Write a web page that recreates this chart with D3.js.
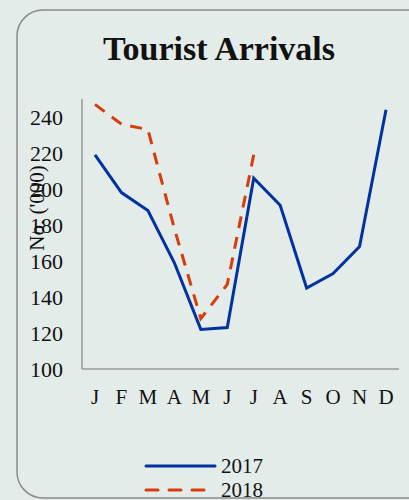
<!DOCTYPE html>
<html>
<head>
<meta charset="utf-8">
<script src="https://cdn.jsdelivr.net/npm/d3@7"></script>
<style>
  body { margin: 0; background: #e4ecea; }
  svg { display: block; }
  text { font-family: "Liberation Serif", "DejaVu Serif", serif; fill: #111; }
</style>
</head>
<body>
<div id="chart"></div>
<script>
// months and arrivals ('000)
var months = ["J1", "F", "M1", "A1", "M2", "J2", "J3", "A2", "S", "O", "N", "D"];
var monthLabels = ["J", "F", "M", "A", "M", "J", "J", "A", "S", "O", "N", "D"];
var arrivals2017 = [219, 198, 188, 159, 122, 123, 206, 191, 145, 153, 168, 244];
var arrivals2018 = [247, 236, 233, 178, 128, 147, 219];
var yTicks = [100, 120, 140, 160, 180, 200, 220, 240];

var width = 409, height = 500;

var svg = d3.select("#chart").append("svg")
    .attr("width", width)
    .attr("height", height);

// rounded frame
svg.append("rect")
    .attr("x", 17).attr("y", 10)
    .attr("width", 430).attr("height", 488)
    .attr("rx", 26)
    .attr("fill", "#e4ecea")
    .attr("stroke", "#8a8a8a")
    .attr("stroke-width", 1.5);

// title
svg.append("text")
    .attr("x", 219).attr("y", 60)
    .attr("text-anchor", "middle")
    .style("font-size", "34px")
    .style("font-weight", "bold")
    .text("Tourist Arrivals");

// scales
var x = d3.scalePoint()
    .domain(months)
    .range([95, 386]);

var y = d3.scaleLinear()
    .domain([100, 250])
    .range([369, 99]);

// axes lines
svg.append("line")
    .attr("x1", 82).attr("x2", 82)
    .attr("y1", y(250)).attr("y2", y(100))
    .attr("stroke", "#9a9a9a").attr("stroke-width", 1.5);
svg.append("line")
    .attr("x1", 82).attr("x2", 399)
    .attr("y1", y(100)).attr("y2", y(100))
    .attr("stroke", "#9a9a9a").attr("stroke-width", 1.5);

// y tick labels
svg.selectAll(".ytick")
    .data(yTicks)
  .enter().append("text")
    .attr("class", "ytick")
    .attr("x", 63)
    .attr("y", function(d) { return y(d); })
    .attr("dy", "0.35em")
    .attr("text-anchor", "end")
    .style("font-size", "22px")
    .text(function(d) { return d; });

// x tick labels
svg.selectAll(".xtick")
    .data(months)
  .enter().append("text")
    .attr("class", "xtick")
    .attr("x", function(d) { return x(d); })
    .attr("y", 404)
    .attr("text-anchor", "middle")
    .style("font-size", "21px")
    .text(function(d, i) { return monthLabels[i]; });

// y axis title
svg.append("text")
    .attr("transform", "translate(44,208) rotate(-90)")
    .attr("text-anchor", "middle")
    .style("font-size", "21px")
    .text("No. ('000)");

// lines
var line = d3.line()
    .x(function(d, i) { return x(months[i]); })
    .y(function(d) { return y(d); });

svg.append("path")
    .attr("d", line(arrivals2017))
    .attr("fill", "none")
    .attr("stroke", "#0033a0")
    .attr("stroke-width", 3);

svg.append("path")
    .attr("d", line(arrivals2018))
    .attr("fill", "none")
    .attr("stroke", "#d63c0c")
    .attr("stroke-width", 3)
    .attr("stroke-dasharray", "12,9");

// legend
var legend = [
    {name: "2017", color: "#0033a0", dash: null, y: 466},
    {name: "2018", color: "#d63c0c", dash: "12,11", y: 490}
];

var lg = svg.selectAll(".legend")
    .data(legend)
  .enter().append("g")
    .attr("class", "legend");

lg.append("line")
    .attr("x1", 146).attr("x2", 215)
    .attr("y1", function(d) { return d.y; })
    .attr("y2", function(d) { return d.y; })
    .attr("stroke", function(d) { return d.color; })
    .attr("stroke-width", 3)
    .attr("stroke-linecap", "round")
    .attr("stroke-dasharray", function(d) { return d.dash; });

lg.append("text")
    .attr("x", 221)
    .attr("y", function(d) { return d.y; })
    .attr("dy", "0.35em")
    .style("font-size", "21px")
    .text(function(d) { return d.name; });
</script>
</body>
</html>
